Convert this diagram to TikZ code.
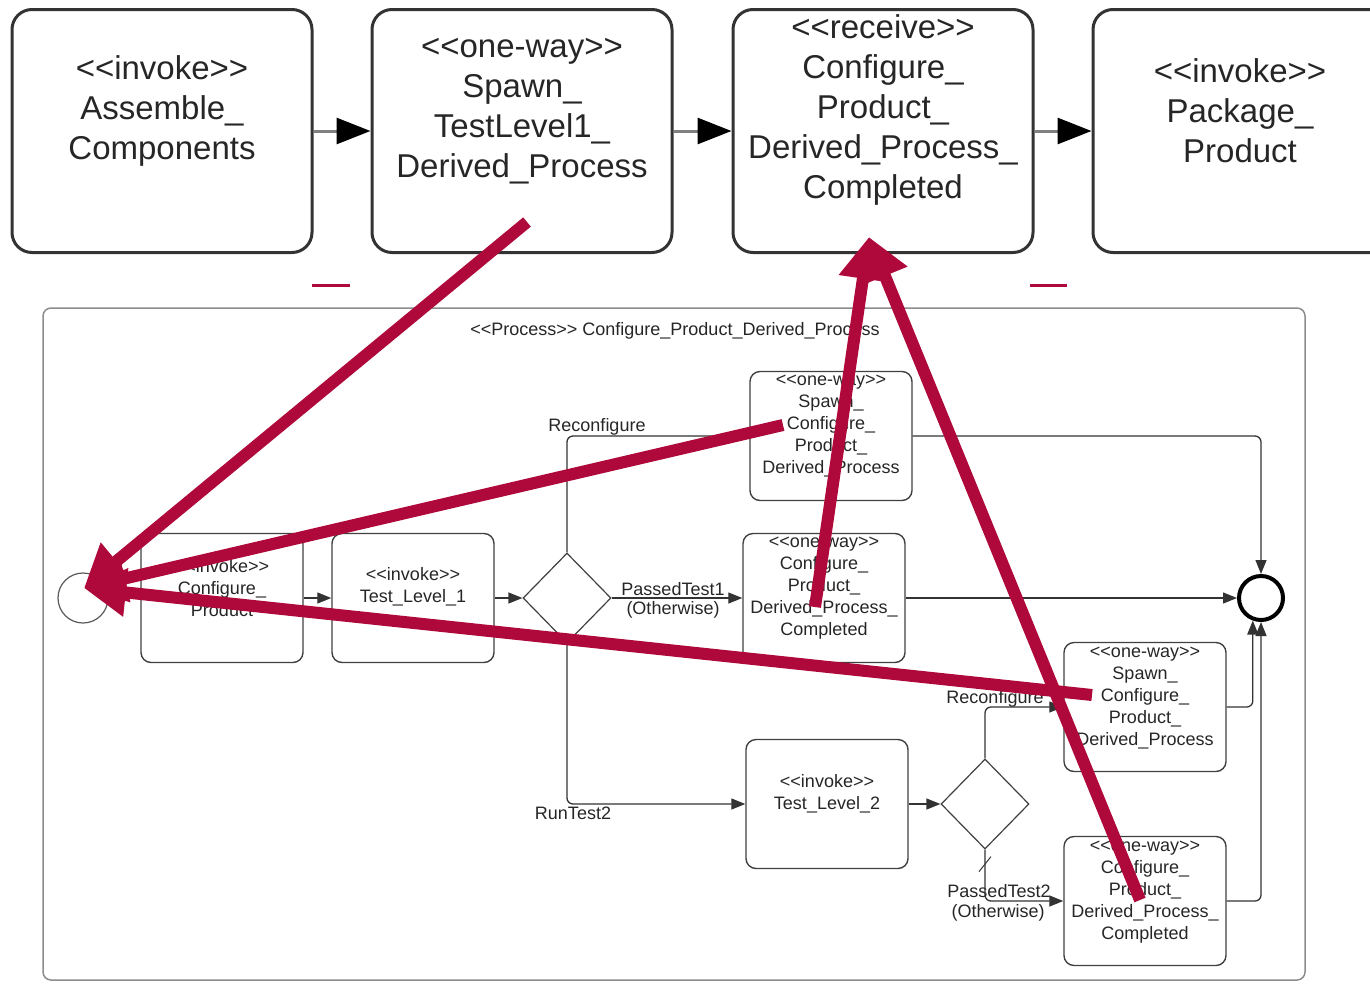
\documentclass[tikz,border=0pt]{standalone}
\usepackage{fontspec}
\setmainfont{Liberation Sans}
\usetikzlibrary{arrows.meta,shapes.geometric}
\definecolor{hintred}{RGB}{175,8,58}
\newcommand{\stereo}[1]{<{}<#1>{}>}
\tikzset{
    every node/.style={align=center,},
    bigtask/.style={draw=black!80,line width=3pt,rectangle,rounded corners=20pt,minimum width=300pt,minimum height=243pt,},
    task/.style={draw=black!75,line width=1.4pt,rectangle,rounded corners=10pt,minimum width=162pt,minimum height=129pt,},
    gate/.style={draw=black!75,line width=1.2pt,diamond,minimum width=88pt,minimum height=90pt,inner sep=0pt,},
    bigtext/.style={font=\fontsize{33}{40}\selectfont,text=black!85,inner sep=0pt,},
    smalltext/.style={font=\fontsize{18}{22}\selectfont,text=black!85,inner sep=0pt,},
    flow/.style={draw=black!80,line width=1.3pt,rounded corners=6pt,-{Triangle[length=14pt,width=11pt]},},
    bigflow/.style={draw=black!50,line width=3pt,-{Triangle[length=34pt,width=26pt,color=black]},},
    hint/.style={draw=hintred,line width=12pt,-{Triangle[length=42pt,width=46pt]},},
}

\begin{document}
\begin{tikzpicture}[x=1pt,y=-1pt]
    \useasboundingbox (0,0) rectangle (1370,983);
    \clip (0,0) rectangle (1370,983);

    \node[bigtask] (assemble) at (162,131) {};
    \node[bigtask] (spawn) at (522,131) {};
    \node[bigtask] (receive) at (883,131) {};
    \node[bigtask] (package) at (1243,131) {};
    \node[bigtext] (assembletext) at (162,111) {\stereo{invoke}\\Assemble\_\\Components};
    \node[bigtext] (spawntext) at (522,111) {\stereo{one-way}\\Spawn\_\\TestLevel1\_\\Derived\_Process};
    \node[bigtext] (receivetext) at (883,110) {\stereo{receive}\\Configure\_\\Product\_\\Derived\_Process\_\\Completed};
    \node[bigtext] (packagetext) at (1240,111) {\stereo{invoke}\\Package\_\\Product};

    \draw[bigflow] (assemble) -- (spawn);
    \draw[bigflow] (spawn) -- (receive);
    \draw[bigflow] (receive) -- (package);

    \draw[hintred,line width=3pt] (312,285) -- (350,285);
    \draw[hintred,line width=3pt] (1030,285) -- (1067,285);

    \node[draw=black!45,line width=1.5pt,rectangle,rounded corners=8pt,minimum width=1262pt,minimum height=672pt] (process) at (674,644) {};
    \node[smalltext] (processtext) at (675,331) {\stereo{Process} Configure\_Product\_Derived\_Process};

    \node[circle,draw=black!65,line width=1.2pt,minimum size=50pt] (start) at (83,598) {};
    \node[circle,draw=black,line width=4pt,minimum size=44pt] (finish) at (1261,598) {};

    \node[task] (cfg) at (222,598) {};
    \node[task] (test1) at (413,598) {};
    \node[gate] (gate1) at (567,598) {};
    \node[task] (spawn1) at (831,436) {};
    \node[task] (done1) at (824,598) {};
    \node[task] (test2) at (827,804) {};
    \node[gate] (gate2) at (985,804) {};
    \node[task] (spawn2) at (1145,707) {};
    \node[task] (done2) at (1145,901) {};

    \node[smalltext] (cfgtext) at (222,588) {\stereo{invoke}\\Configure\_\\Product};
    \node[smalltext] (test1text) at (413,587) {\stereo{invoke}\\Test\_Level\_1};
    \node[smalltext] (spawn1text) at (831,426) {\stereo{one-way}\\Spawn\_\\Configure\_\\Product\_\\Derived\_Process};
    \node[smalltext] (done1text) at (824,588) {\stereo{one-way}\\Configure\_\\Product\_\\Derived\_Process\_\\Completed};
    \node[smalltext] (test2text) at (827,794) {\stereo{invoke}\\Test\_Level\_2};
    \node[smalltext] (spawn2text) at (1145,698) {\stereo{one-way}\\Spawn\_\\Configure\_\\Product\_\\Derived\_Process};
    \node[smalltext] (done2text) at (1145,892) {\stereo{one-way}\\Configure\_\\Product\_\\Derived\_Process\_\\Completed};

    \node[smalltext] (reconf1) at (597,427) {Reconfigure};
    \node[smalltext] (passed1) at (673,589) {PassedTest1};
    \node[smalltext] (other1) at (673,610) {(Otherwise)};
    \node[smalltext] (runtest) at (573,813) {RunTest2};
    \node[smalltext] (reconf2) at (995,699) {Reconfigure};
    \node[smalltext] (passed2) at (999,891) {PassedTest2};
    \node[smalltext] (other2) at (998,913) {(Otherwise)};

    \draw[flow] (cfg) -- (test1);
    \draw[flow] (test1) -- (gate1);
    \draw[flow] (gate1.north) |- (spawn1.west);
    \draw[flow] (gate1) -- (done1);
    \draw[flow] (gate1.south) |- (test2.west);
    \draw[flow] (spawn1.east) -| (finish.north);
    \draw[flow] (done1) -- (finish);
    \draw[flow] (test2) -- (gate2);
    \draw[flow] (gate2.north) |- (spawn2.west);
    \draw[flow] (gate2.south) |- (done2.west);
    \draw[black!80,line width=1pt] ([xshift=-6pt,yshift=-22pt]gate2.south) -- ++(12,-15);
    \draw[flow] (spawn2.east) -| (finish.-110);
    \draw[flow] (done2.east) -| (finish.south);

    \coordinate (target) at (84,588);
    \coordinate (goal) at (869,237);
    \coordinate (tail1) at (527,222);
    \coordinate (tail2) at (783,425);
    \coordinate (tail3) at (1092,695);
    \coordinate (tail4) at (815,607);
    \coordinate (tail5) at (1140,900);
    \draw[hint] (tail1) -- (target);
    \draw[hint] (tail2) -- (target);
    \draw[hint] (tail3) -- (target);
    \draw[hint] (tail4) -- (goal);
    \draw[hint] (tail5) -- (goal);
\end{tikzpicture}
\end{document}
